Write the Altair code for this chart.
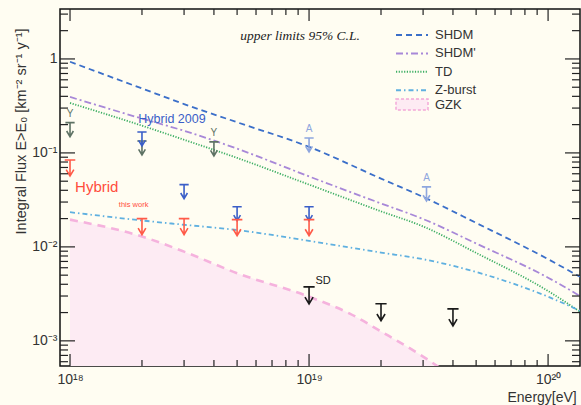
import altair as alt
import pandas as pd

# ---------------- axis ranges ----------------
X_MIN, X_MAX = 9.08e17, 1.36e20
Y_MIN, Y_MAX = 5.4e-4, 3.4

x_tick_values = [1e18, 1e19, 1e20]
x_tick_labels = ["10¹⁸", "10¹⁹", "10²⁰"]
y_tick_values = [1e-3, 1e-2, 1e-1, 1.0]
y_tick_labels = ["10⁻³", "10⁻²", "10⁻¹", "1"]

x_minor = [2e18, 3e18, 4e18, 5e18, 6e18, 7e18, 8e18, 9e18,
           2e19, 3e19, 4e19, 5e19, 6e19, 7e19, 8e19, 9e19]
y_minor = [6e-4, 7e-4, 8e-4, 9e-4,
           2e-3, 3e-3, 4e-3, 5e-3, 6e-3, 7e-3, 8e-3, 9e-3,
           2e-2, 3e-2, 4e-2, 5e-2, 6e-2, 7e-2, 8e-2, 9e-2,
           0.2, 0.3, 0.4, 0.5, 0.6, 0.7, 0.8, 0.9, 2.0, 3.0]

# ---------------- model curves ----------------
energy = [1e18, 2e18, 3e18, 5e18, 1e19, 2e19, 3e19, 5e19, 1e20, 1.36e20]
shdm = [0.933, 0.485, 0.331, 0.212, 0.116, 0.0533, 0.034, 0.018, 0.0074, 0.0048]
shdm_p = [0.394, 0.232, 0.172, 0.111, 0.0562, 0.029, 0.0198, 0.01087, 0.0047, 0.0030]
td = [0.340, 0.195, 0.138, 0.0885, 0.046, 0.0239, 0.0165, 0.00863, 0.00339, 0.00204]
zburst = [0.0234, 0.0191, 0.0172, 0.0151, 0.0116, 0.0087, 0.0074, 0.0054, 0.00295, 0.00209]

gzk_energy = [1e18, 2e18, 3e18, 5e18, 1e19, 1.48e19, 2e19, 3e19, 3.55e19]
gzk = [0.0195, 0.0129, 0.0089, 0.00525, 0.00295, 0.00195, 0.00126, 0.00068, 0.00051]

series_names = ["SHDM", "SHDM'", "TD", "Z-burst"]
series_colors = ["#3b6fc9", "#a888d8", "#3cae63", "#5fb0e0"]
series_dashes = [[6, 4], [7, 3, 2, 3], [1.2, 1.5], [5, 3, 1.5, 3]]

# ---------------- upper limits ----------------
y_e = [1e18, 2e18, 4e18]
y_f = [0.21, 0.134, 0.131]
a_e = [1e19, 3.1e19]
a_f = [0.144, 0.0435]
h09_e = [2e18, 3e18, 5e18, 1e19]
h09_f = [0.167, 0.046, 0.0267, 0.0267]
hyb_e = [1e18, 2e18, 3e18, 5e18, 1e19]
hyb_f = [0.084, 0.020, 0.020, 0.0195, 0.0195]
sd_e = [1e19, 2e19, 4e19]
sd_f = [0.00375, 0.00248, 0.00219]

# ---------------- annotations ----------------
note_text = ["Hybrid 2009", "Hybrid", "this work"]
note_e = [1.93e18, 1.05e18, 1.6e18]
note_f = [0.23, 0.0435, 0.028]
note_color = ["#3a5ec8", "#ff4d3d", "#ff4d3d"]
note_size = [12.5, 15, 7.5]

W, H = 520, 357

# ---------------- build tables ----------------
rows = []
for name, vals in zip(series_names, [shdm, shdm_p, td, zburst]):
    for e, f in zip(energy, vals):
        rows.append({"E": e, "F": f, "series": name})
lines_df = pd.DataFrame(rows)

gzk_df = pd.DataFrame({"E": gzk_energy, "F": gzk, "floor": [Y_MIN] * len(gzk), "lab": ["GZK"] * len(gzk)})

lim_rows = []
def add(es, fs, col, L, lab=""):
    for e, f in zip(es, fs):
        lim_rows.append({"E": e, "F": f, "col": col, "sz": (2 * L) ** 2, "lab": lab})
add(y_e, y_f, "#5e7264", 14)
add(a_e, a_f, "#8ea6de", 14)
add(h09_e, h09_f, "#3a5ec8", 14)
add(hyb_e, hyb_f, "#ff5a48", 16)
add(sd_e, sd_f, "#1a1a1a", 17)
lim_df = pd.DataFrame(lim_rows)

lab_df = pd.DataFrame({
    "E": [y_e[0], y_e[2], a_e[0], a_e[1]],
    "F": [y_f[0], y_f[2], a_f[0], a_f[1]],
    "t": ["Y", "Y", "A", "A"],
    "col": ["#5e7264", "#5e7264", "#8ea6de", "#8ea6de"],
})
sd_lab_df = pd.DataFrame({"E": [sd_e[0]], "F": [sd_f[0]], "t": ["SD"]})

notes_df = pd.DataFrame({"E": note_e, "F": note_f, "t": note_text, "col": note_color, "fs": note_size})
cl_df = pd.DataFrame({"E": [9.17e18], "F": [1.76], "t": ["upper limits 95% C.L."]})

xs = alt.Scale(type="log", domain=[X_MIN, X_MAX], nice=False)
ys = alt.Scale(type="log", domain=[Y_MIN, Y_MAX], nice=False)

def expr_for(values, labels):
    parts = []
    for v, l in zip(values[:-1], labels[:-1]):
        parts.append(f"datum.value < {v*3} ? '{l}' : ")
    return "".join(parts) + f"'{labels[-1]}'"

x_axis = alt.Axis(values=x_tick_values, labelExpr=expr_for(x_tick_values, x_tick_labels),
                  ticks=False, domain=False, grid=False, labelFontSize=14, labelPadding=6,
                  labelFont="Liberation Sans", labelColor="#333", labelOverlap=False, labelFlush=False,
                  title="Energy[eV]", titleX=447, titleY=31, titleAlign="left", titleBaseline="middle",
                  titleFontSize=14, titleFontWeight="normal", titleFont="Liberation Sans", titleColor="#333")
y_axis = alt.Axis(values=y_tick_values, labelExpr=expr_for(y_tick_values, y_tick_labels),
                  ticks=False, domain=False, grid=False, labelFontSize=14, labelPadding=3,
                  labelFont="Liberation Sans", labelColor="#333", labelOverlap=False, labelFlush=False,
                  title="Integral Flux E>E₀ [km⁻² sr⁻¹ y⁻¹]", titleX=-39, titleY=19, titleAngle=270,
                  titleAlign="right", titleBaseline="middle", titleFontSize=14.5, titleFontWeight="normal",
                  titleFont="Liberation Sans", titleColor="#333")

X = alt.X("E:Q", scale=xs, axis=x_axis)
Y = alt.Y("F:Q", scale=ys, axis=y_axis)

legend_lines = alt.Legend(orient="none", legendX=335, legendY=19.5, title=None, symbolSize=1024,
                          clipHeight=13, rowPadding=4.4, labelFontSize=13, labelColor="#333",
                          labelFont="Liberation Sans", labelOffset=6, symbolOffset=0, padding=0,
                          symbolStrokeWidth=2, symbolType="stroke")

gzk_area = alt.Chart(gzk_df).mark_area(clip=True, interpolate="monotone", opacity=1).encode(
    x=X, y=Y, y2="floor:Q",
    fill=alt.Fill("lab:N", scale=alt.Scale(domain=["GZK"], range=["#fdebf3"]),
                  legend=alt.Legend(orient="none", legendX=335, legendY=89, title=None,
                                    symbolType="M-1,-0.34H1V0.34H-1Z", symbolSize=1024, clipHeight=13,
                                    symbolStrokeColor="#f3a8d8", symbolDash=[3, 2], symbolStrokeWidth=1.5,
                                    labelFontSize=13, labelColor="#333", labelFont="Liberation Sans",
                                    labelOffset=6, symbolOffset=0, padding=0, symbolOpacity=1)),
)
gzk_line = alt.Chart(gzk_df).mark_line(clip=True, interpolate="monotone", color="#f5b2dd",
                                       strokeWidth=2.6, strokeDash=[8, 6]).encode(x=X, y=Y)

lines = alt.Chart(lines_df).mark_line(clip=True, interpolate="monotone", strokeWidth=1.8).encode(
    x=X, y=Y,
    color=alt.Color("series:N", scale=alt.Scale(domain=series_names, range=series_colors), legend=legend_lines),
    strokeDash=alt.StrokeDash("series:N", scale=alt.Scale(domain=series_names, range=series_dashes),
                              legend=legend_lines),
)

GLYPH = "M-0.33,0H0.33M0,0V1M-0.24,0.6L0,1L0.24,0.6"
limits = alt.Chart(lim_df).mark_point(shape=GLYPH, filled=False, strokeWidth=1.6, opacity=1).encode(
    x=X, y=Y, stroke=alt.Stroke("col:N", scale=None), size=alt.Size("sz:Q", scale=None),
)

labs = alt.Chart(lab_df).mark_text(dy=-9, fontSize=10, font="Liberation Sans").encode(
    x=X, y=Y, text="t:N", color=alt.Color("col:N", scale=None))
sd_lab = alt.Chart(sd_lab_df).mark_text(dx=14, dy=-6, fontSize=11, font="Liberation Sans", color="#1a1a1a").encode(
    x=X, y=Y, text="t:N")
notes = alt.Chart(notes_df).mark_text(align="left", font="Liberation Sans").encode(
    x=X, y=Y, text="t:N", color=alt.Color("col:N", scale=None), size=alt.Size("fs:Q", scale=None))
cl = alt.Chart(cl_df).mark_text(align="center", font="Liberation Serif", fontStyle="italic",
                                fontSize=13.5, color="#222").encode(x=X, y=Y, text="t:N")

# ---------------- inward ticks on all four sides ----------------
xt_major = pd.DataFrame({"E": x_tick_values})
xt_minor = pd.DataFrame({"E": x_minor})
yt_major = pd.DataFrame({"F": y_tick_values})
yt_minor = pd.DataFrame({"F": y_minor})

def xticks(df, y0, y1):
    return alt.Chart(df).mark_rule(color="#222", strokeWidth=1.2).encode(
        x=X, y=alt.value(y0), y2=alt.value(y1))

def yticks(df, x0, x1):
    return alt.Chart(df).mark_rule(color="#222", strokeWidth=1.2).encode(
        y=Y, x=alt.value(x0), x2=alt.value(x1))

ticks = [
    xticks(xt_major, H, H - 12), xticks(xt_minor, H, H - 6),
    xticks(xt_major, 0, 12), xticks(xt_minor, 0, 6),
    yticks(yt_major, 0, 15), yticks(yt_minor, 0, 8),
    yticks(yt_major, W, W - 15), yticks(yt_minor, W, W - 8),
]

chart = alt.layer(gzk_area, gzk_line, lines, limits, labs, sd_lab, notes, cl, *ticks).properties(
    width=W, height=H,
    padding={"left": 60, "top": 9, "right": 1, "bottom": 39},
    autosize=alt.AutoSizeParams(type="none"),
    background="#fffdf2",
).configure_view(stroke="#111", strokeWidth=1.5)

chart.save("out.html", embed_options={"renderer": "svg", "actions": False})
